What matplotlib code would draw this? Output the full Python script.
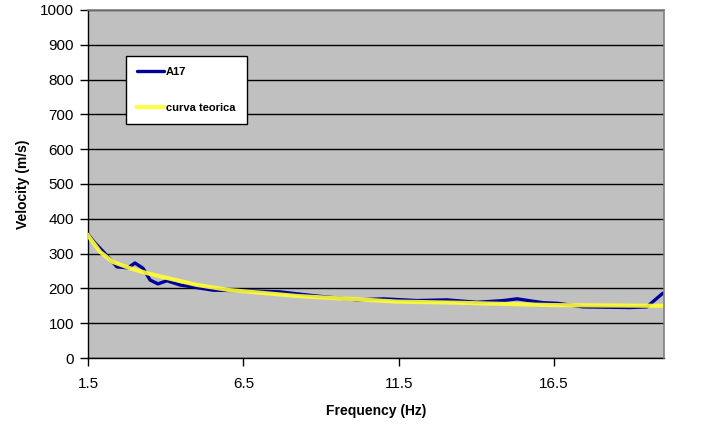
import matplotlib
matplotlib.use("Agg")
import matplotlib.pyplot as plt

plt.rcParams['font.family'] = ['Liberation Sans', 'DejaVu Sans']

# A17 measured curve
a17_freq = [1.5, 1.73, 2.05, 2.43, 2.79, 3.01, 3.27, 3.5, 3.75, 4.04, 4.46, 4.88,
            5.52, 6.62, 7.68, 8.26, 8.87, 10.16, 11.0, 12.09, 13.05, 14.02, 14.86,
            15.31, 16.14, 16.63, 17.43, 18.94, 19.49, 20.0]
a17_vel = [355, 330, 300, 262, 259, 273, 258, 224, 213, 222, 210, 204,
           195, 193, 190, 184, 178, 167, 170, 165, 167, 160, 165,
           170, 159, 157, 147, 145, 147, 186]

# theoretical curve
teo_freq = [1.5, 1.89, 2.3, 2.85, 3.39, 4.04, 5.0, 6.07, 7.13, 8.26, 9.87, 11.48,
            13.3, 15.1, 16.5, 18.0, 20.0]
teo_vel = [352, 305, 276, 258, 244, 230, 210, 195, 187, 178, 170, 162,
           159, 155, 152, 151, 150]

xticks = [1.5, 6.5, 11.5, 16.5]
yticks = list(range(0, 1001, 100))

fig = plt.figure(figsize=(7.17, 4.30), dpi=100)
ax = fig.add_axes([88/717, 1-358/430, (664-88)/717, (358-10)/430])
ax.set_facecolor('#c0c0c0')

ax.plot(a17_freq, a17_vel, color='#000099', lw=2.4, solid_joinstyle='round',
        solid_capstyle='round', label='A17', zorder=3)
ax.plot(teo_freq, teo_vel, color='#ffff33', lw=3.0, alpha=0.9, solid_joinstyle='round',
        label='curva teorica', zorder=4)

ax.set_xlim(1.5, 20.04)
ax.set_ylim(0, 1000)
ax.set_xticks(xticks)
ax.set_xticklabels([str(x) for x in xticks])
ax.set_yticks(yticks)
ax.yaxis.grid(True, color='black', lw=1.0)
ax.set_axisbelow(True)

for s in ['top', 'right']:
    ax.spines[s].set_color('#808080')
    ax.spines[s].set_linewidth(1.2)
    ax.spines[s].set_zorder(5)
for s in ['left', 'bottom']:
    ax.spines[s].set_color('black')
    ax.spines[s].set_linewidth(1.0)

ax.tick_params(axis='both', direction='out', length=6, width=1, labelsize=11, colors='black')
ax.tick_params(axis='y', pad=4)
ax.tick_params(axis='x', pad=8)

ax.set_xlabel('Frequency (Hz)', fontsize=10, fontweight='bold', labelpad=9)
ax.set_ylabel('Velocity (m/s)', fontsize=10, fontweight='bold', labelpad=7)

leg = fig.legend(loc='upper left', bbox_to_anchor=(126/717, 1-56/430),
                 bbox_transform=fig.transFigure, frameon=True, fancybox=False,
                 edgecolor='black', framealpha=1, facecolor='white',
                 prop={'weight': 'bold', 'size': 8}, labelspacing=2.3,
                 handlelength=2.4, handletextpad=0.2, borderpad=1.0, borderaxespad=0)
leg.get_frame().set_linewidth(1.0)

fig.savefig('out.png', dpi=100)
